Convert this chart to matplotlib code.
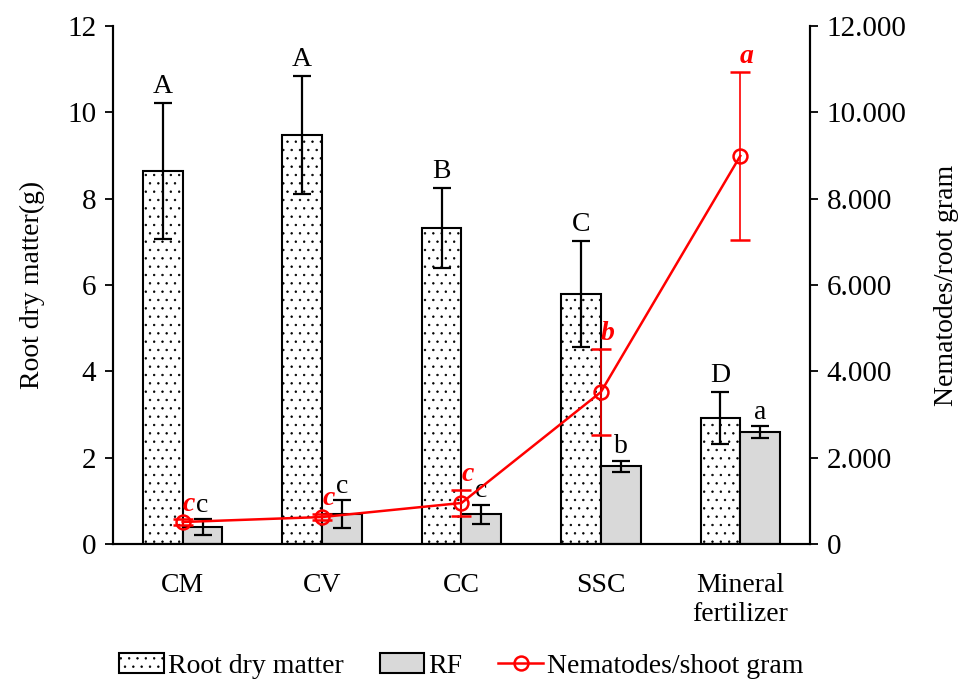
import numpy as np
import matplotlib
matplotlib.use("Agg")
import matplotlib.pyplot as plt
from matplotlib.lines import Line2D
from matplotlib.ticker import FuncFormatter

plt.rcParams['font.family'] = ['Liberation Serif', 'DejaVu Serif']
plt.rcParams['hatch.linewidth'] = 0.5

# data
treatments = ["CM", "CV", "CC", "SSC", "Mineral\nfertilizer"]
root_dry = [8.64, 9.47, 7.32, 5.79, 2.92]
root_err = [1.58, 1.37, 0.93, 1.23, 0.60]
root_letters = ["A", "A", "B", "C", "D"]
rf = [0.39, 0.69, 0.69, 1.80, 2.59]
rf_err = [0.19, 0.33, 0.22, 0.13, 0.14]
rf_letters = ["c", "c", "c", "b", "a"]
nema = [510, 625, 950, 3520, 8990]
nema_err = [60, 70, 300, 1000, 1940]
nema_letters = ["c", "c", "c", "b", "a"]

FS = 20
x = np.arange(len(treatments))
w = 0.285

fig = plt.figure(figsize=(9.63, 6.8), dpi=100)
ax = fig.add_axes([0.1173, 0.2, 0.7238, 0.7618])
ax2 = ax.twinx()

b1 = ax.bar(x - w / 2, root_dry, w, color='white', edgecolor='black', linewidth=1.5,
            hatch='..', label='Root dry matter', zorder=2)
b2 = ax.bar(x + w / 2, rf, w, color='#d9d9d9', edgecolor='black', linewidth=1.5,
            label='RF', zorder=2)
ax.errorbar(x - w / 2, root_dry, yerr=root_err, fmt='none', ecolor='black',
            elinewidth=1.6, capsize=6.5, capthick=1.6, zorder=3)
ax.errorbar(x + w / 2, rf, yerr=rf_err, fmt='none', ecolor='black',
            elinewidth=1.6, capsize=6.5, capthick=1.6, zorder=3)

# significance letters
for i in range(len(x)):
    ax.annotate(root_letters[i], (x[i] - w / 2, root_dry[i] + root_err[i]),
                xytext=(0, 12), textcoords='offset points', ha='center', va='center',
                fontsize=FS)
    ax.annotate(rf_letters[i], (x[i] + w / 2, rf[i] + rf_err[i]),
                xytext=(0, 10), textcoords='offset points', ha='center', va='center',
                fontsize=FS)

ax2.errorbar(x, nema, yerr=nema_err, color='red', marker='o', markersize=10,
             markerfacecolor='none', markeredgewidth=1.8, linewidth=1.8,
             elinewidth=1.2, capsize=7, capthick=1.2)
for i in range(len(x)):
    ax2.annotate(nema_letters[i], (x[i], nema[i] + nema_err[i]),
                 xytext=(4.5, 11), textcoords='offset points', ha='center', va='center',
                 fontsize=FS, color='red', fontweight='bold', fontstyle='italic')

ax.set_xlim(-0.5, 4.5)
ax.set_ylim(0, 12)
ax2.set_ylim(0, 12000)
ax.set_yticks(np.arange(0, 13, 2))
ax2.set_yticks(np.arange(0, 12001, 2000))
ax2.yaxis.set_major_formatter(FuncFormatter(lambda v, p: '{:,.0f}'.format(v).replace(',', '.')))
ax.set_xticks(x)
ax.set_xticklabels(treatments)
ax.tick_params(axis='x', length=0, pad=21, labelsize=FS)
ax.tick_params(axis='y', length=6, width=1.3, labelsize=21, pad=6)
ax2.tick_params(axis='y', length=6, width=1.3, labelsize=21, pad=6)

for a in (ax, ax2):
    a.spines['top'].set_visible(False)
    for s in ('left', 'right', 'bottom'):
        a.spines[s].set_linewidth(1.5)

ax.set_ylabel("Root dry matter(g)", fontsize=FS, labelpad=16)
ax2.set_ylabel("Nematodes/root gram", fontsize=FS, labelpad=20)

line_handle = Line2D([], [], color='red', marker='o', markersize=10,
                     markerfacecolor='none', markeredgewidth=1.8, linewidth=1.8)
fig.legend([b1, b2, line_handle], ['Root dry matter', 'RF', 'Nematodes/shoot gram'],
           loc='lower center', bbox_to_anchor=(0.479, -0.035), ncol=3, frameon=False,
           fontsize=FS, handlelength=1.6, handletextpad=0.15, columnspacing=1.3,
           numpoints=1)

fig.savefig("out.png", dpi=100)
